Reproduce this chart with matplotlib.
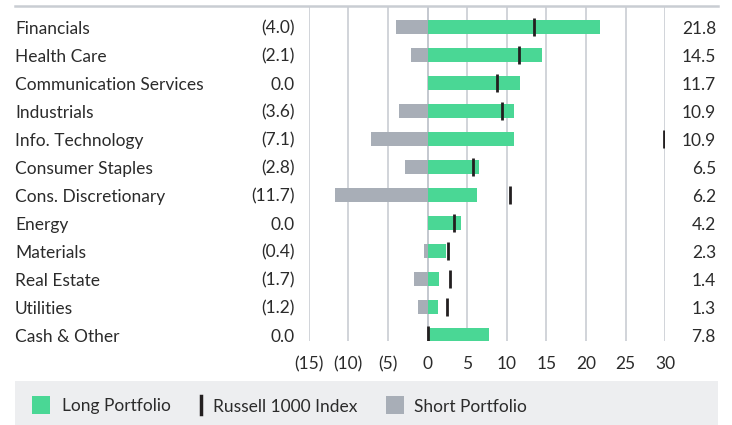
# -*- coding: utf-8 -*-
# posición larga / corta por sector frente al Russell 1000

import matplotlib.pyplot as plt
import matplotlib.transforms as mtransforms
from matplotlib.patches import Rectangle
from matplotlib.lines import Line2D

# %% datos
sectores = ['Financials', 'Health Care', 'Communication Services', 'Industrials',
            'Info. Technology', 'Consumer Staples', 'Cons. Discretionary', 'Energy',
            'Materials', 'Real Estate', 'Utilities', 'Cash & Other']
largo = [21.8, 14.5, 11.7, 10.9, 10.9, 6.5, 6.2, 4.2, 2.3, 1.4, 1.3, 7.8]
corto = [4.0, 2.1, 0.0, 3.6, 7.1, 2.8, 11.7, 0.0, 0.4, 1.7, 1.2, 0.0]
russell = [13.4, 11.5, 8.8, 9.4, 29.8, 5.7, 10.4, 3.3, 2.6, 2.8, 2.4, 0.1]
ticks = [-15, -10, -5, 0, 5, 10, 15, 20, 25, 30]
etiquetas_ticks = ['(15)', '(10)', '(5)', '0', '5', '10', '15', '20', '25', '30']
leyenda = ['Long Portfolio', 'Russell 1000 Index', 'Short Portfolio']

# %% estilo
plt.rcParams['font.family'] = ['Lato', 'DejaVu Sans']
verde = '#4ad795'
gris = '#a8aeb7'
negro = '#231f20'
texto = '#2b2b2b'
fs = 12.5
W, H = 732, 425

fig = plt.figure(figsize=(W / 100, H / 100), dpi=100)
# eje en píxeles: x de 308.6 a 665.3, y de 6 a 341
ax = fig.add_axes([308.6 / W, 1 - 341 / H, (665.3 - 308.6) / W, 335 / H])

n = len(sectores)
y = list(range(n))
ax.barh(y, largo, height=0.5, color=verde, zorder=2)
ax.barh(y, [-c for c in corto], height=0.5, color=gris, zorder=2)
ax.vlines(russell, [i - 0.32 for i in y], [i + 0.32 for i in y], color=negro,
          lw=2, zorder=3)

ax.set_xlim(-15, 30)
ax.set_ylim(11.21, -0.75)
ax.set_xticks(ticks)
ax.set_xticklabels(etiquetas_ticks, fontsize=fs, color=texto)
ax.tick_params(axis='x', length=0, pad=11)
ax.set_yticks([])
for s in ax.spines.values():
    s.set_visible(False)
ax.grid(axis='x', color='#c9cdd3', lw=1.2, zorder=0)
ax.axvline(0, color='#a8aeb7', lw=1.2, zorder=1)

# columnas de texto
tr = mtransforms.blended_transform_factory(fig.transFigure, ax.transData)
for i in y:
    ax.text(15 / W, i, sectores[i], transform=tr, ha='left',
            va='center_baseline', fontsize=fs, color=texto)
    txt_c = f'({corto[i]:.1f})' if corto[i] > 0 else f'{corto[i]:.1f}'
    ax.text(295 / W, i, txt_c, transform=tr, ha='right',
            va='center_baseline', fontsize=fs, color=texto)
    ax.text(716 / W, i, f'{largo[i]:.1f}', transform=tr, ha='right',
            va='center_baseline', fontsize=fs, color=texto)

# línea superior
fig.add_artist(Line2D([15 / W, 718 / W], [1 - 6 / H, 1 - 6 / H],
                      color='#c9cdd3', lw=1.8))

# leyenda (en píxeles de la figura)
def px(x, yy):
    return x / W, 1 - yy / H

fig.add_artist(Rectangle(px(15, 425), (718 - 15) / W, 44 / H,
                         facecolor='#edeef0', edgecolor='none', zorder=0))
fig.add_artist(Rectangle(px(32, 414), 18 / W, 18 / H, facecolor=verde,
                         edgecolor='none'))
fig.add_artist(Line2D([200.5 / W] * 2, [1 - 396 / H, 1 - 414 / H], color=negro,
                      lw=2.5))
fig.add_artist(Rectangle(px(386, 414), 18 / W, 18 / H, facecolor=gris,
                         edgecolor='none'))
for xt, lab in zip([62, 213, 414], leyenda):
    fig.text(*px(xt, 405), lab, ha='left', va='center_baseline', fontsize=fs,
             color=texto)

fig.savefig('out.png', dpi=100)
